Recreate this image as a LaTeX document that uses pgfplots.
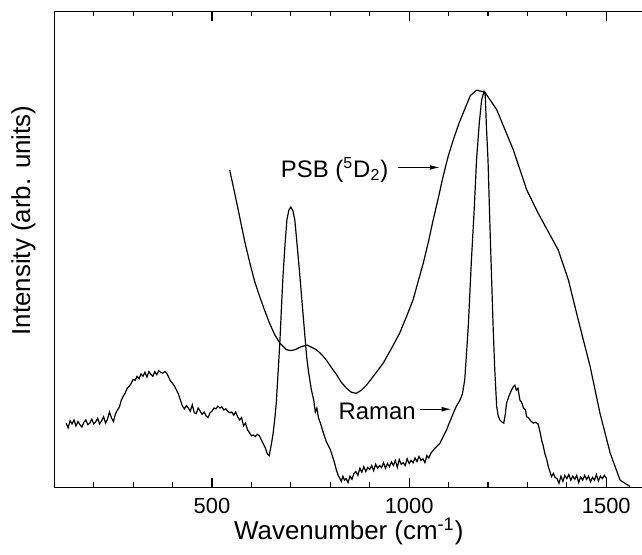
\documentclass[border=0pt]{standalone}
\usepackage{fontspec}
\setmainfont{Liberation Sans}
\usepackage{pgfplots}
\pgfplotsset{compat=1.18}
\usetikzlibrary{arrows.meta}
\begin{document}
\begin{tikzpicture}
\begin{axis}[
  scale only axis,
  width=295.7bp, height=237.8bp,
  xmin=100, xmax=1600, ymin=0, ymax=12,
  xtick={500,1000,1500}, xticklabels={500,1000,1500},
  minor xtick={100,200,...,1600},
  ytick=\empty, minor ytick={0,1,...,12},
  major tick length=4.6bp, minor tick length=2.4bp,
  tick align=inside,
  axis line style={line width=0.7bp},
  every tick/.style={line width=0.6bp, black},
  /pgf/number format/assume math mode=true,
  xticklabel style={font=\fontsize{11}{13}\selectfont, anchor=base, yshift=-13bp},
  xlabel={Wavenumber (cm\textsuperscript{-1})},
  ylabel={Intensity (arb. units)},
  xlabel style={font=\fontsize{13}{15}\selectfont, at={(axis description cs:0.498,-0.1093)}, anchor=base},
  ylabel style={font=\fontsize{13}{15}\selectfont, at={(axis description cs:-0.052,0.561)}, anchor=center},
  clip=true,
]
\addplot[black, line width=0.6bp] coordinates {
(130,1.62)(135,1.50)(140,1.68)(145,1.60)(150,1.70)(155,1.55)(160,1.66)(165,1.58)(170,1.52)(175,1.64)
(180,1.70)(185,1.58)(190,1.62)(195,1.72)(200,1.60)(205,1.65)(210,1.74)(215,1.60)(220,1.68)(225,1.78)
(230,1.62)(235,1.72)(240,1.90)(245,1.75)(250,1.66)(255,1.85)(260,1.95)(265,2.02)(270,2.20)(275,2.30)
(280,2.38)(285,2.50)(290,2.55)(295,2.62)(300,2.72)(305,2.70)(310,2.80)(315,2.74)(320,2.86)(325,2.80)
(330,2.90)(335,2.78)(340,2.92)(345,2.85)(350,2.80)(355,2.92)(360,2.84)(365,2.94)(370,2.90)(375,2.88)
(380,2.92)(385,2.88)(390,2.78)(395,2.68)(400,2.62)(405,2.55)(410,2.45)(415,2.35)(420,2.20)(425,2.05)
(430,1.98)(435,2.06)(440,2.00)(445,1.92)(450,2.08)(455,1.88)(460,1.86)(465,2.00)(470,1.92)(475,1.84)
(480,1.90)(485,1.80)(490,1.76)(495,1.88)(500,1.92)(505,2.00)(510,1.98)(515,2.05)(520,2.00)(525,2.03)
(530,1.95)(535,1.98)(540,1.92)(545,1.88)(550,1.90)(555,1.82)(560,1.90)(565,1.78)(570,1.70)(575,1.76)
(580,1.55)(585,1.62)(590,1.45)(595,1.38)(600,1.30)(605,1.32)(610,1.28)(615,1.34)(620,1.30)(625,1.20)
(630,1.10)(635,1.00)(640,0.85)(645,0.80)(650,1.05)(655,1.36)(660,1.80)(663,2.12)(667,2.8)(672,3.64)
(676,4.5)(680,5.32)(685,6.1)(690,6.75)(695,7.0)(700,7.07)(705,6.98)(710,6.75)(716,6.1)(723,5.32)
(729,4.6)(735,3.89)(740,3.3)(745,2.9)(752,2.46)(758,2.2)(762,1.9)(766,2.0)(770,1.75)(775,1.62)
(780,1.45)(785,1.30)(790,1.15)(795,1.05)(800,0.95)(805,0.80)(811,0.61)(815,0.45)(820,0.30)(824,0.23)
(828,0.15)(832,0.28)(836,0.18)(840,0.22)(845,0.12)(850,0.28)(855,0.20)(860,0.35)(865,0.40)(870,0.30)
(875,0.48)(880,0.38)(885,0.52)(890,0.40)(895,0.50)(900,0.45)(905,0.55)(910,0.42)(915,0.58)(920,0.48)
(925,0.55)(930,0.50)(935,0.62)(940,0.48)(945,0.60)(950,0.52)(955,0.64)(960,0.55)(965,0.68)(970,0.50)
(975,0.70)(980,0.58)(985,0.62)(990,0.55)(995,0.72)(1000,0.60)(1005,0.68)(1010,0.62)(1015,0.74)(1020,0.65)
(1025,0.78)(1030,0.68)(1035,0.72)(1040,0.62)(1045,0.80)(1050,0.74)(1055,0.86)(1060,0.92)(1065,0.98)(1070,1.03)
(1078,1.11)(1085,1.25)(1090,1.35)(1095,1.45)(1100,1.58)(1105,1.70)(1112,1.87)(1120,2.05)(1129,2.20)(1135,2.35)
(1141,2.71)(1145,3.3)(1150,4.06)(1158,5.74)(1165,7.0)(1171,8.27)(1178,9.2)(1184,9.78)(1190,9.99)(1193,9.9)
(1196,9.1)(1200,8.27)(1205,6.58)(1210,5.0)(1213,4.06)(1217,3.0)(1222,2.04)(1226,1.80)(1230,1.70)(1235,1.65)
(1240,1.62)(1244,1.85)(1247,2.12)(1253,2.30)(1260,2.46)(1265,2.55)(1268,2.58)(1272,2.45)(1276,2.50)(1281,2.20)
(1285,2.15)(1290,2.00)(1295,1.95)(1298,1.78)(1303,1.75)(1308,1.68)(1315,1.62)(1320,1.64)(1327,1.60)(1332,1.40)
(1336,1.19)(1340,1.05)(1344,0.86)(1349,0.70)(1353,0.52)(1357,0.40)(1361,0.27)(1366,0.35)(1370,0.25)(1375,0.22)
(1380,0.10)(1385,0.28)(1390,0.15)(1395,0.30)(1400,0.22)(1405,0.32)(1410,0.18)(1415,0.28)(1420,0.20)(1425,0.30)
(1430,0.12)(1435,0.26)(1440,0.18)(1445,0.30)(1450,0.20)(1455,0.28)(1460,0.14)(1465,0.25)(1470,0.18)(1475,0.32)
(1480,0.16)(1485,0.28)(1490,0.22)(1495,0.30)(1500,0.23)
};
\addplot[black, line width=0.6bp] coordinates {
(545,8.0)(558,7.4)(570,6.83)(583,6.2)(596,5.66)(608,5.2)(621,4.81)(634,4.45)(646,4.14)(659,3.85)
(672,3.64)(689,3.47)(700,3.45)(710,3.47)(727,3.55)(741,3.59)(753,3.53)(765,3.47)(778,3.35)(790,3.21)
(803,3.02)(816,2.84)(828,2.65)(841,2.5)(853,2.40)(866,2.37)(879,2.45)(892,2.58)(913,2.85)(934,3.13)
(955,3.50)(976,3.89)(993,4.30)(1010,4.73)(1023,5.2)(1036,5.66)(1049,6.2)(1061,6.75)(1074,7.3)(1086,7.84)
(1099,8.35)(1112,8.77)(1127,9.2)(1144,9.61)(1155,9.88)(1171,10.02)(1192,9.97)(1222,9.53)(1264,8.52)(1298,7.51)
(1327,6.92)(1378,5.99)(1404,5.23)(1429,4.22)(1459,3.05)(1484,1.87)(1510,0.86)(1535,0.18)(1560,0.02)
};
\node[font=\fontsize{12}{14}\selectfont, anchor=center] at (axis cs:811,8.01) {PSB (\textsuperscript{5}D\textsubscript{2})};
\draw[line width=0.6bp, -{Latex[length=5bp,width=2.4bp]}] (axis cs:971,8.07) -- (axis cs:1078,8.07);
\node[font=\fontsize{12}{14}\selectfont, anchor=center] at (axis cs:919,1.91) {Raman};
\draw[line width=0.6bp, -{Latex[length=5bp,width=2.4bp]}] (axis cs:1027,1.97) -- (axis cs:1108,1.97);
\end{axis}
\pgfresetboundingbox
\path[use as bounding box] ([xshift=-27.15bp,yshift=-33.85bp]current axis.south west) rectangle ([xshift=-1.85bp,yshift=5.85bp]current axis.north east);
\end{tikzpicture}
\end{document}
